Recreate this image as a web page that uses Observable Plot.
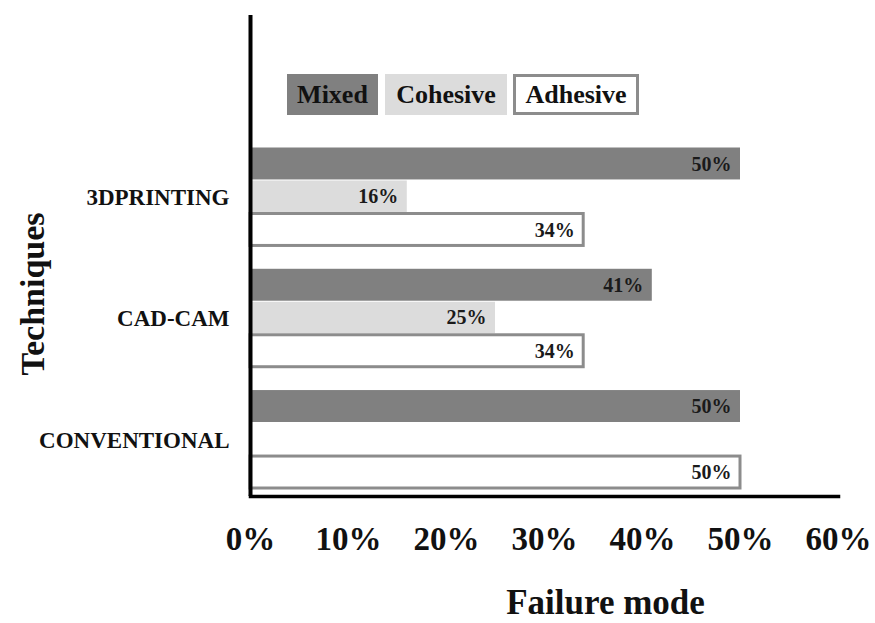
<!DOCTYPE html>
<html>
<head>
<meta charset="utf-8">
<script src="https://cdn.jsdelivr.net/npm/d3@7"></script>
<script src="https://cdn.jsdelivr.net/npm/@observablehq/plot@0.6"></script>
<style>
  html, body { margin: 0; padding: 0; background: #fff; }
  #wrap { position: relative; width: 875px; height: 623px; font-family: "Liberation Serif", "Times New Roman", serif; }
  .lg { position: absolute; box-sizing: border-box; display: flex; align-items: center; justify-content: center;
        font: bold 26px "Liberation Serif", "Times New Roman", serif; color: #111; }
</style>
</head>
<body>
<div id="wrap"></div>
<script>
// ---- data ----
const techniques = ["3DPRINTING", "CAD-CAM", "CONVENTIONAL"];
const modes = ["Mixed", "Cohesive", "Adhesive"];
const mixed = [50, 41, 50];
const cohesive = [16, 25, 0];
const adhesive = [34, 34, 50];
const xTicks = [0, 10, 20, 30, 40, 50, 60];
const xTitle = "Failure mode";
const yTitle = "Techniques";

const series = {Mixed: mixed, Cohesive: cohesive, Adhesive: adhesive};
const rows = techniques.flatMap((t, i) => modes.map(m => ({technique: t, mode: m, value: series[m][i]})));
const byMode = m => rows.filter(d => d.mode === m && d.value > 0);

const font = '"Liberation Serif", "Times New Roman", serif';
const cMixed = "#808080", cCoh = "#dcdcdc", cAdhStroke = "#8c8c8c";

const chart = Plot.plot({
  width: 875, height: 623,
  marginLeft: 250, marginRight: 37, marginTop: 15, marginBottom: 127,
  style: {fontFamily: font, background: "white", color: "#111"},
  x: {domain: [0, 60]},
  y: {domain: techniques, range: [147.5, 489.5], paddingInner: 0.18, paddingOuter: 0, round: false},
  marks: [
    Plot.barX(byMode("Mixed"), {x: "value", y: "technique", fill: cMixed, insetTop: 0, insetBottom: 67.5}),
    Plot.barX(byMode("Cohesive"), {x: "value", y: "technique", fill: cCoh, insetTop: 33, insetBottom: 35}),
    Plot.barX(byMode("Adhesive"), {x: "value", y: "technique", fill: "white", stroke: cAdhStroke, strokeWidth: 3, insetTop: 66, insetBottom: 1.5}),
    Plot.text(byMode("Mixed"), {x: "value", y: "technique", text: d => d.value + "%", textAnchor: "end", dx: -9, dy: -33.5, fontSize: 20, fontWeight: "bold", fill: "#1a1a1a"}),
    Plot.text(byMode("Cohesive"), {x: "value", y: "technique", text: d => d.value + "%", textAnchor: "end", dx: -9, dy: -1, fontSize: 20, fontWeight: "bold", fill: "#1a1a1a"}),
    Plot.text(byMode("Adhesive"), {x: "value", y: "technique", text: d => d.value + "%", textAnchor: "end", dx: -9, dy: 32.5, fontSize: 20, fontWeight: "bold", fill: "#1a1a1a"}),
    Plot.axisX({ticks: xTicks, tickFormat: d => d + "%", tickSize: 0, tickPadding: 30, fontSize: 33, fontWeight: "bold", label: null}),
    Plot.axisY({tickSize: 0, tickPadding: 21, fontSize: 23, fontWeight: "bold", label: null}),
    Plot.ruleX([0], {stroke: "#000", strokeWidth: 4}),
    Plot.frame({anchor: "bottom", stroke: "#000", strokeWidth: 3.5}),
    Plot.text([xTitle], {frameAnchor: "bottom", textAnchor: "middle", dx: 61, dy: 106, fontSize: 35, fontWeight: "bold", lineAnchor: "middle"}),
    Plot.text([yTitle], {frameAnchor: "left", textAnchor: "middle", dx: -217, dy: 38, rotate: -90, fontSize: 34, fontWeight: "bold", lineAnchor: "middle"})
  ]
});

const wrap = document.getElementById("wrap");
wrap.appendChild(chart);

// legend (HTML overlay inside the plot area)
const legendBoxes = [
  {left: 287, width: 91, bg: cMixed, border: "none"},
  {left: 385, width: 122, bg: cCoh, border: "none"},
  {left: 513, width: 126, bg: "#fff", border: "3px solid " + cAdhStroke}
];
modes.forEach((m, i) => {
  const b = legendBoxes[i];
  const el = document.createElement("div");
  el.className = "lg";
  el.style.left = b.left + "px";
  el.style.top = "74px";
  el.style.width = b.width + "px";
  el.style.height = "41px";
  el.style.background = b.bg;
  el.style.border = b.border;
  el.textContent = m;
  wrap.appendChild(el);
});
</script>
</body>
</html>
